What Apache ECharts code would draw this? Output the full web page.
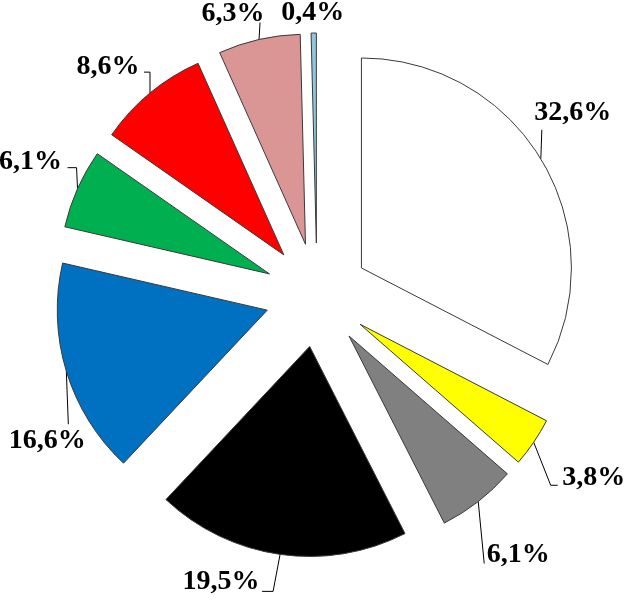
<!DOCTYPE html>
<html>
<head>
<meta charset="utf-8">
<script src="https://cdn.jsdelivr.net/npm/echarts@6/dist/echarts.min.js"></script>
<style>
html,body{margin:0;padding:0;background:#fff;}
#chart{width:627px;height:600px;}
</style>
</head>
<body>
<div id="chart"></div>
<script>
// ---- data ----
var categories = ['A', 'B', 'C', 'D', 'E', 'F', 'G', 'H', 'I'];
var values = [32.6, 3.8, 6.1, 19.5, 16.6, 6.1, 8.6, 6.3, 0.4];
var labels = ['32,6%', '3,8%', '6,1%', '19,5%', '16,6%', '6,1%', '8,6%', '6,3%', '0,4%'];

// ---- styling / label placement (offsets relative to the exploded slice's outer mid-point) ----
var colors = ['#ffffff', '#ffff00', '#808080', '#000000', '#0070c0', '#00b050', '#ff0000', '#d99694', '#93c6da'];
var labelOffsets = [[32, -46], [60, 35], [40, 53], [-59, 27], [-19, 70], [-47, -27], [-42, -26], [-26, -26], [-1, -20]];
var leaderBends = [
  [[1, -29]],
  [[17, 43], [24, 43]],
  [[6, 62]],
  [[-7, 37], [-18, 37]],
  [[2, 53]],
  [[-1, -21], [-10, -21]],
  [[0, -21], [-6, -21]],
  [[1, -17]],
  []
];

var CENTER = [317, 295];
var RADIUS = 210;
var EXPLODE = 52;

var chart = echarts.init(document.getElementById('chart'), null, {renderer: 'canvas'});

var sliceData = categories.map(function (c, i) {
  return { name: c, value: values[i], selected: true, itemStyle: {color: colors[i]} };
});
var labelData = categories.map(function (c, i) {
  return { name: c, value: values[i] };
});

chart.setOption({
  animation: false,
  backgroundColor: '#ffffff',
  series: [{
    type: 'pie',
    center: CENTER,
    radius: [0, RADIUS],
    startAngle: 90,
    clockwise: true,
    selectedMode: 'multiple',
    selectedOffset: EXPLODE,
    silent: true,
    itemStyle: {borderColor: '#3a3a3a', borderWidth: 1},
    label: {show: false},
    labelLine: {show: false},
    data: sliceData
  }, {
    // transparent twin that carries the labels and leader lines
    type: 'pie',
    center: CENTER,
    radius: [0, RADIUS],
    startAngle: 90,
    clockwise: true,
    silent: true,
    avoidLabelOverlap: false,
    itemStyle: {color: 'transparent', borderWidth: 0},
    label: {
      show: true,
      position: 'outside',
      formatter: function (p) { return labels[p.dataIndex]; },
      fontFamily: 'Liberation Serif',
      fontWeight: 'bold',
      fontSize: 28,
      color: '#000'
    },
    labelLine: {show: true, length: 10, length2: 10, smooth: false, lineStyle: {color: '#000', width: 1}},
    labelLayout: function (p) {
      var i = p.dataIndex;
      var a0 = p.labelLinePoints[0];
      var k = (RADIUS + EXPLODE) / RADIUS;
      var a = [CENTER[0] + (a0[0] - CENTER[0]) * k, CENTER[1] + (a0[1] - CENTER[1]) * k];
      var pts = [[a[0], a[1]]];
      leaderBends[i].forEach(function (b) { pts.push([a[0] + b[0], a[1] + b[1]]); });
      if (pts.length < 2) pts.push([a[0], a[1]]);
      return {
        x: a[0] + labelOffsets[i][0],
        y: a[1] + labelOffsets[i][1],
        align: 'center',
        verticalAlign: 'middle',
        labelLinePoints: pts
      };
    },
    data: labelData
  }]
});
</script>
</body>
</html>
